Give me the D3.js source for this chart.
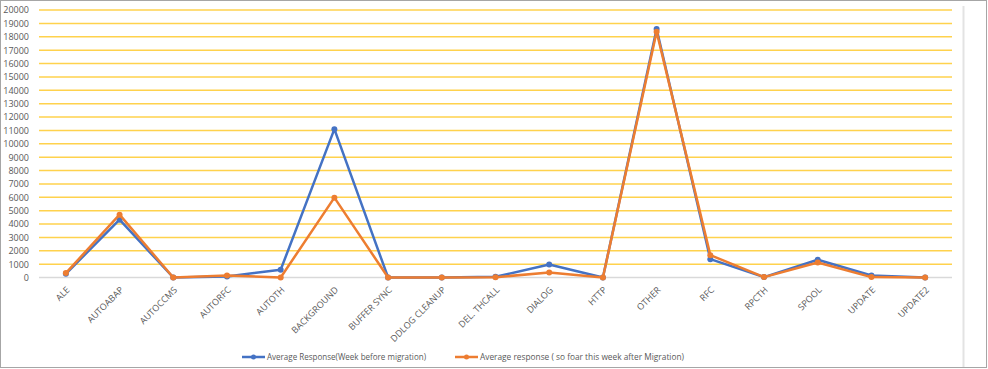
<!DOCTYPE html>
<html>
<head>
<meta charset="utf-8">
<script src="https://cdn.jsdelivr.net/npm/d3@7"></script>
<style>
  body { margin: 0; background: #fff; }
  svg text { font-family: "Open Sans", "Liberation Sans", sans-serif; fill: #595959; }
</style>
</head>
<body>
<div class="chart"></div>
<script>
// data
var categories = ["ALE", "AUTOABAP", "AUTOCCMS", "AUTORFC", "AUTOTH", "BACKGROUND", "BUFFER SYNC",
  "DDLOG CLEANUP", "DEL. THCALL", "DIALOG", "HTTP", "OTHER", "RFC", "RPCTH", "SPOOL", "UPDATE", "UPDATE2"];
var beforeValues = [280, 4320, 0, 80, 575, 11090, 0, 0, 50, 975, 0, 18580, 1370, 30, 1325, 150, 0];
var afterValues = [330, 4700, 0, 150, 0, 5970, 0, 0, 20, 375, 0, 18380, 1670, 30, 1120, 30, 0];
var seriesNames = ["Average Response(Week before migration)", "Average response ( so foar this week  after  Migration)"];
var yTicks = d3.range(0, 20001, 1000);

var svgWidth = 988;
var svgHeight = 369;
var margin = { top: 10, right: 36, bottom: 91.5, left: 39 };
var width = svgWidth - margin.left - margin.right;
var height = svgHeight - margin.top - margin.bottom;

var svg = d3.select(".chart")
  .append("svg")
  .attr("width", svgWidth)
  .attr("height", svgHeight);

// outer frame and the right separator
svg.append("rect")
  .attr("x", 0.5).attr("y", 0.5)
  .attr("width", svgWidth - 2).attr("height", svgHeight - 2)
  .attr("fill", "none").attr("stroke", "#a6a6a6");
svg.append("line")
  .attr("x1", 963.5).attr("x2", 963.5).attr("y1", 6).attr("y2", svgHeight - 2)
  .attr("stroke", "#e3e3e3").attr("stroke-width", 2);

var chartGroup = svg.append("g")
  .attr("transform", `translate(${margin.left}, ${margin.top})`);

var xScale = d3.scalePoint()
  .domain(categories)
  .range([0, width])
  .padding(0.5);

var yScale = d3.scaleLinear()
  .domain([0, 20000])
  .range([height, 0]);

// gridlines
chartGroup.append("g")
  .selectAll("line")
  .data(yTicks)
  .enter()
  .append("line")
  .attr("x1", 0)
  .attr("x2", width)
  .attr("y1", d => yScale(d))
  .attr("y2", d => yScale(d))
  .attr("stroke", d => d === 0 ? "#d9d9d9" : "#ffd24d")
  .attr("stroke-width", 1.5);

// y axis labels
var yAxis = d3.axisLeft(yScale).tickValues(yTicks).tickFormat(d3.format("d")).tickSize(0).tickPadding(10);
chartGroup.append("g")
  .call(yAxis)
  .call(g => g.select(".domain").remove())
  .selectAll("text")
  .style("font-size", "9px")
  .attr("fill", "#595959");

// x axis labels
var xAxis = d3.axisBottom(xScale).tickSize(0).tickPadding(0);
chartGroup.append("g")
  .attr("transform", `translate(0, ${height})`)
  .call(xAxis)
  .call(g => g.select(".domain").remove())
  .selectAll("text")
  .style("font-size", "9px")
  .attr("fill", "#595959")
  .attr("text-anchor", "end")
  .attr("dy", "0")
  .attr("transform", "translate(4, 13) rotate(-45)");

var series = [
  { name: seriesNames[0], values: beforeValues, color: "#4472c4", textLen: 159 },
  { name: seriesNames[1], values: afterValues, color: "#ed7d31", textLen: 204 }
];

var line = d3.line()
  .x((d, i) => xScale(categories[i]))
  .y(d => yScale(d));

series.forEach(function(s) {
  chartGroup.append("path")
    .datum(s.values)
    .attr("fill", "none")
    .attr("stroke", s.color)
    .attr("stroke-width", 2.5)
    .attr("stroke-linejoin", "round")
    .attr("d", line);

  chartGroup.append("g")
    .selectAll("circle")
    .data(s.values)
    .enter()
    .append("circle")
    .attr("cx", (d, i) => xScale(categories[i]))
    .attr("cy", d => yScale(d))
    .attr("r", 3)
    .attr("fill", s.color);
});

// legend
var legendX = [242, 455];
series.forEach(function(s, i) {
  var lg = svg.append("g").attr("transform", `translate(${legendX[i]}, 357)`);
  lg.append("line")
    .attr("x1", 0).attr("x2", 23)
    .attr("stroke", s.color).attr("stroke-width", 2.5);
  lg.append("circle")
    .attr("cx", 11.5).attr("r", 2.5).attr("fill", s.color);
  lg.append("text")
    .attr("x", 25)
    .attr("dy", "0.35em")
    .style("font-size", "9px")
    .attr("textLength", s.textLen)
    .attr("lengthAdjust", "spacingAndGlyphs")
    .text(s.name);
});
</script>
</body>
</html>
